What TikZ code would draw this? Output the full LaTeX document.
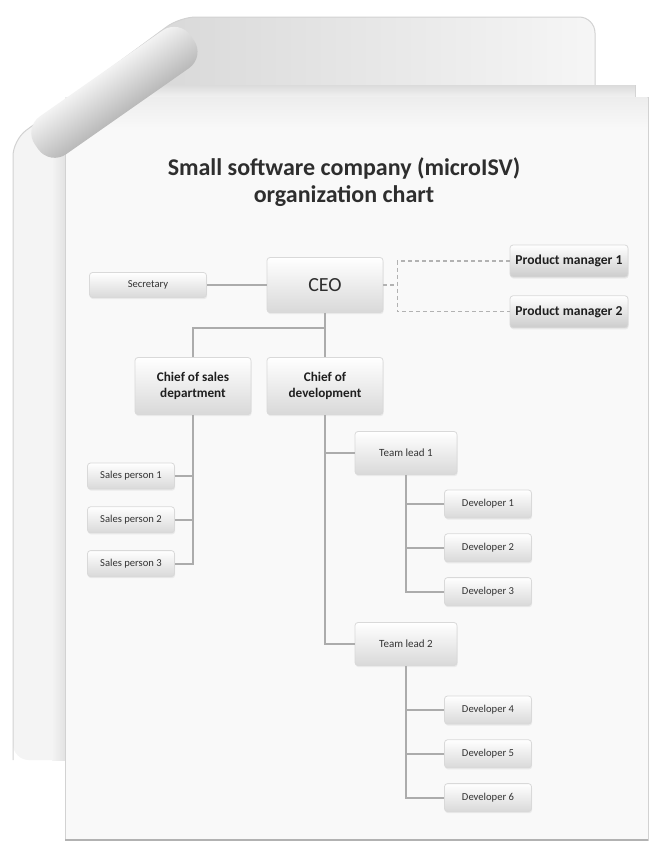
\documentclass[tikz,border=0pt]{standalone}
\usepackage{fontspec}
\setmainfont{Carlito}
\usetikzlibrary{positioning,shadows}
\tikzset{every picture/.style={line width=0.8pt}}
\tikzset{
  card/.style={draw=gray!30, line width=0.4pt, rounded corners=1.5pt, top color=white, bottom color=gray!30,
    text=black!80, align=center, inner sep=1pt, drop shadow={opacity=0.12, shadow xshift=0.3pt, shadow yshift=-0.8pt}},
  headcard/.style={card, text=black!88, font=\bfseries\fontsize{6.6}{7.6}\selectfont, minimum width=58pt, minimum height=28.5pt},
  leadcard/.style={card, font=\fontsize{5.5}{6.5}\selectfont, minimum width=51pt, minimum height=21.5pt},
  smallcard/.style={card, font=\fontsize{5.3}{6}\selectfont, minimum width=43.5pt, minimum height=14pt},
  pmcard/.style={card, text=black!88, bottom color=gray!40, font=\bfseries\fontsize{6.8}{8}\selectfont, minimum width=59pt, minimum height=16pt},
  link/.style={draw=gray!65, line width=0.9pt},
  sheet/.style={draw=gray!35, line width=0.5pt},
}

\begin{document}
\begin{tikzpicture}[x=0.5pt, y=-0.5pt, node distance=7.5pt]
  \useasboundingbox (0,0) rectangle (653,847);
  \fill[white] (0,0) rectangle (653,847);

  \begin{scope}
    \clip[rounded corners=8pt] (13,760) -- (13,140) -- (180,17) -- (595,17) -- (595,760) -- cycle;
    \fill[gray!9] (0,0) rectangle (653,847);
    \shade[left color=gray!32, right color=gray!7] (120,10) rectangle (600,100);
  \end{scope}
  \draw[sheet, rounded corners=8pt] (13,760) -- (13,140) -- (180,17) -- (595,17) -- (595,100);
  \filldraw[sheet, fill=gray!11] (100,85) rectangle (635,835);
  \shade[top color=gray!28, bottom color=gray!11] (100,85) rectangle (635,97);
  \shade[left color=gray!9, right color=gray!22] (52,150) rectangle (65,760);
  \filldraw[sheet, fill=gray!5] (65,97) rectangle (648,840);
  \shade[top color=gray!14, bottom color=gray!5] (65,97.5) rectangle (647.5,130);
  \draw[gray!60, line width=1pt] (65,840) -- (648,840);
  \shade[transform canvas={shift={(36,146)}, rotate=35}, rounded corners=10pt,
    top color=gray!10, middle color=white, bottom color=gray!55] (0,-22) rectangle (190,24);

  \node[font=\bfseries\fontsize{12}{13.5}\selectfont, text=black!82, align=center] (title) at (344,182)
    {Small software company (microISV)\\organization chart};

  \node[headcard, font=\fontsize{10}{12}\selectfont, minimum height=27.5pt, text=black!82] (ceo) at (325,285) {CEO};
  \node[smallcard, minimum width=58.5pt, minimum height=12.5pt] (secretary) at (148,285) {Secretary};
  \node[pmcard] (pm1) at (569,261) {Product manager 1};
  \node[pmcard, below=9pt of pm1] (pm2) {Product manager 2};
  \node[headcard] (chiefsales) at (193,386) {Chief of sales\\department};
  \node[headcard] (chiefdev) at (325,386) {Chief of\\development};

  \node[smallcard, minimum height=13pt] (sp1) at (131,476) {Sales person 1};
  \node[smallcard, minimum height=13pt, below=8.5pt of sp1] (sp2) {Sales person 2};
  \node[smallcard, minimum height=13pt, below=8.5pt of sp2] (sp3) {Sales person 3};

  \node[leadcard] (lead1) at (406,453) {Team lead 1};
  \node[smallcard] (dev1) at (488,504) {Developer 1};
  \node[smallcard, below=of dev1] (dev2) {Developer 2};
  \node[smallcard, below=of dev2] (dev3) {Developer 3};
  \node[leadcard] (lead2) at (406,644) {Team lead 2};
  \node[smallcard] (dev4) at (488,710) {Developer 4};
  \node[smallcard, below=of dev4] (dev5) {Developer 5};
  \node[smallcard, below=of dev5] (dev6) {Developer 6};

  \draw[link] (secretary) -- (ceo);
  \draw[link] (ceo.south) -- ++(0,15) coordinate (fork) -| (chiefsales.north);
  \draw[link] (fork) -- (chiefdev.north);
  \draw[link] (chiefsales.south) |- (sp3.east);
  \foreach \n in {sp1,sp2}
    \draw[link] (\n.east) -- (\n.east -| chiefsales.south);
  \draw[link] (chiefdev.south) |- (lead2.west);
  \draw[link] (lead1.west) -- (lead1.west -| chiefdev.south);
  \draw[link] (lead1.south) |- (dev3.west);
  \draw[link] (lead2.south) |- (dev6.west);
  \foreach \n/\l in {dev1/lead1,dev2/lead1,dev4/lead2,dev5/lead2}
    \draw[link] (\n.west) -- (\n.west -| \l.south);
  \draw[link, gray!60, line width=0.6pt, dash pattern=on 2pt off 1.5pt] (ceo.east) -- ++(14,0) coordinate (pmfork);
  \draw[link, gray!60, line width=0.6pt, dash pattern=on 2pt off 1.5pt] (pm1.west) -| (pmfork) |- (pm2.west);
\end{tikzpicture}
\end{document}
